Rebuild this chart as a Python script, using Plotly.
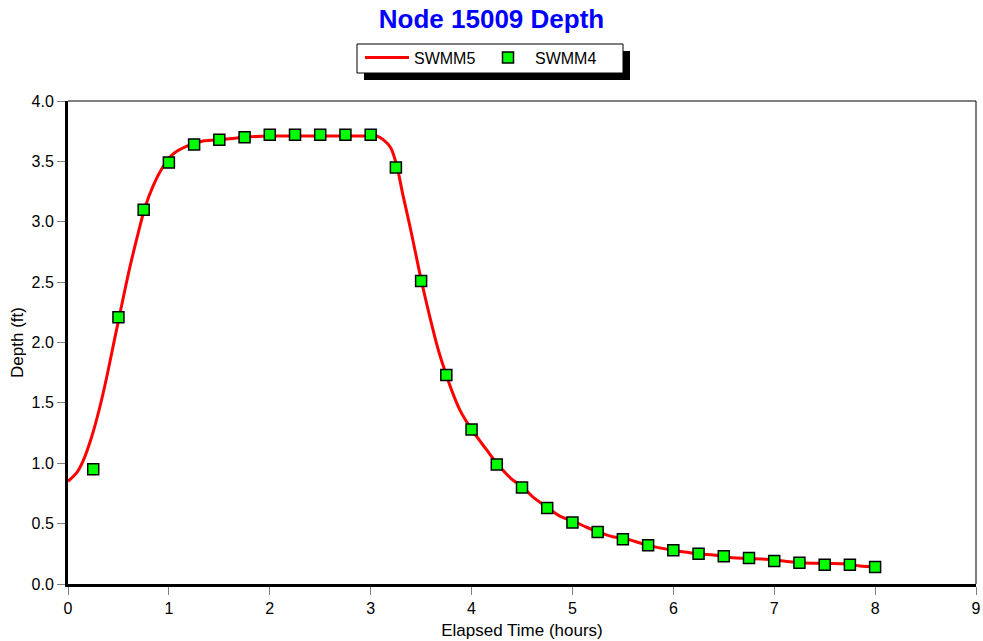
import plotly.graph_objects as go

# SWMM5 continuous depth curve (hours, ft)
swmm5_t = [0, 0.085, 0.15, 0.235, 0.317, 0.383, 0.45, 0.50, 0.55, 0.615, 0.70, 0.76,
           0.845, 0.945, 1.04, 1.19, 1.35, 1.51, 1.75, 2.0, 2.5, 3.0, 3.06, 3.125,
           3.2, 3.26, 3.32, 3.39, 3.46, 3.50, 3.59, 3.67, 3.75, 3.80, 3.885, 4.0,
           4.15, 4.25, 4.41, 4.50, 4.61, 4.74, 4.88, 5.01, 5.14, 5.26, 5.41, 5.51,
           5.75, 6.0, 6.25, 6.4, 6.56, 6.92, 7.25, 7.71, 7.85, 8.0]
swmm5_depth = [0.85, 0.92, 1.02, 1.22, 1.47, 1.71, 1.98, 2.18, 2.38, 2.63, 2.92, 3.11,
               3.30, 3.46, 3.56, 3.63, 3.67, 3.68, 3.70, 3.71, 3.71, 3.71, 3.71, 3.68,
               3.61, 3.46, 3.22, 2.96, 2.68, 2.52, 2.20, 1.94, 1.73, 1.61, 1.44, 1.28,
               1.11, 1.00, 0.86, 0.81, 0.72, 0.64, 0.56, 0.52, 0.47, 0.43, 0.39, 0.38,
               0.32, 0.28, 0.25, 0.24, 0.22, 0.205, 0.177, 0.166, 0.149, 0.143]

# SWMM4 depth samples every 15 minutes
swmm4_t = [0.25, 0.5, 0.75, 1.0, 1.25, 1.5, 1.75, 2.0, 2.25, 2.5, 2.75, 3.0, 3.25,
           3.5, 3.75, 4.0, 4.25, 4.5, 4.75, 5.0, 5.25, 5.5, 5.75, 6.0, 6.25, 6.5,
           6.75, 7.0, 7.25, 7.5, 7.75, 8.0]
swmm4_depth = [0.95, 2.21, 3.10, 3.49, 3.64, 3.68, 3.70, 3.72, 3.72, 3.72, 3.72, 3.72,
               3.45, 2.51, 1.73, 1.28, 0.99, 0.80, 0.63, 0.51, 0.43, 0.37, 0.32, 0.28,
               0.25, 0.23, 0.215, 0.19, 0.175, 0.16, 0.16, 0.14]

W, H = 983, 641
L, R, T, B = 68, 7, 101, 57
pw, ph = W - L - R, H - T - B
FONT = 'Liberation Sans, Arial, sans-serif'


def px_x(p):
    return (p - L) / pw


def px_y(p):
    return (H - B - p) / ph


fig = go.Figure()
fig.add_trace(go.Scatter(x=swmm5_t, y=swmm5_depth, name='SWMM5', mode='lines',
                         line=dict(color='#ff0000', width=3, shape='spline', smoothing=0.8)))
fig.add_trace(go.Scatter(x=swmm4_t, y=swmm4_depth, name='SWMM4', mode='markers',
                         marker=dict(symbol='square', size=11, color='#00ff00',
                                     line=dict(color='black', width=1.5))))

tick_font = dict(family=FONT, size=16, color='black')
title_font = dict(family=FONT, size=17, color='black')

fig.update_xaxes(range=[0, 9], dtick=1, tick0=0, showgrid=False, zeroline=False,
                 showline=True, linecolor='black', linewidth=3, automargin=False,
                 ticks='outside', ticklen=8, tickcolor='#808080', tickwidth=1,
                 tickfont=tick_font,
                 title=dict(text='Elapsed Time (hours)', font=title_font, standoff=8))
fig.update_yaxes(range=[0, 4], dtick=0.5, tick0=0, tickformat='.1f', showgrid=False,
                 zeroline=False, showline=True, linecolor='black', linewidth=3,
                 automargin=False,
                 ticks='outside', ticklen=8, tickcolor='#808080', tickwidth=1,
                 tickfont=tick_font,
                 title=dict(text='Depth (ft)', font=title_font, standoff=4))

# thin top and right frame lines
fig.add_shape(type='line', xref='paper', yref='paper', x0=0, x1=1, y0=1, y1=1,
              line=dict(color='black', width=1))
fig.add_shape(type='line', xref='paper', yref='paper', x0=1, x1=1, y0=0, y1=1,
              line=dict(color='black', width=1))
# legend box with drop shadow
fig.add_shape(type='rect', xref='paper', yref='paper',
              x0=px_x(364), x1=px_x(630), y0=px_y(80), y1=px_y(51),
              fillcolor='black', line=dict(width=0), layer='above')
fig.add_shape(type='rect', xref='paper', yref='paper',
              x0=px_x(357), x1=px_x(623), y0=px_y(73), y1=px_y(44),
              fillcolor='white', line=dict(color='black', width=1), layer='above')

fig.update_layout(
    width=W, height=H,
    margin=dict(l=L, r=R, t=T, b=B),
    paper_bgcolor='white', plot_bgcolor='white',
    title=dict(text='<b>Node 15009 Depth</b>', x=0.5, xanchor='center',
               y=1 - 19 / H, yanchor='middle',
               font=dict(family=FONT, size=26, color='#0000ff')),
    legend=dict(orientation='h', x=px_x(360), xanchor='left', y=px_y(40.5), yanchor='top',
                bgcolor='rgba(0,0,0,0)', borderwidth=0,
                font=dict(family=FONT, size=16, color='black'),
                entrywidth=62, itemwidth=44, tracegroupgap=0),
    showlegend=True,
)

fig.write_html('out.html', config={'displayModeBar': False},
               post_script="document.body.style.margin='0px';")
